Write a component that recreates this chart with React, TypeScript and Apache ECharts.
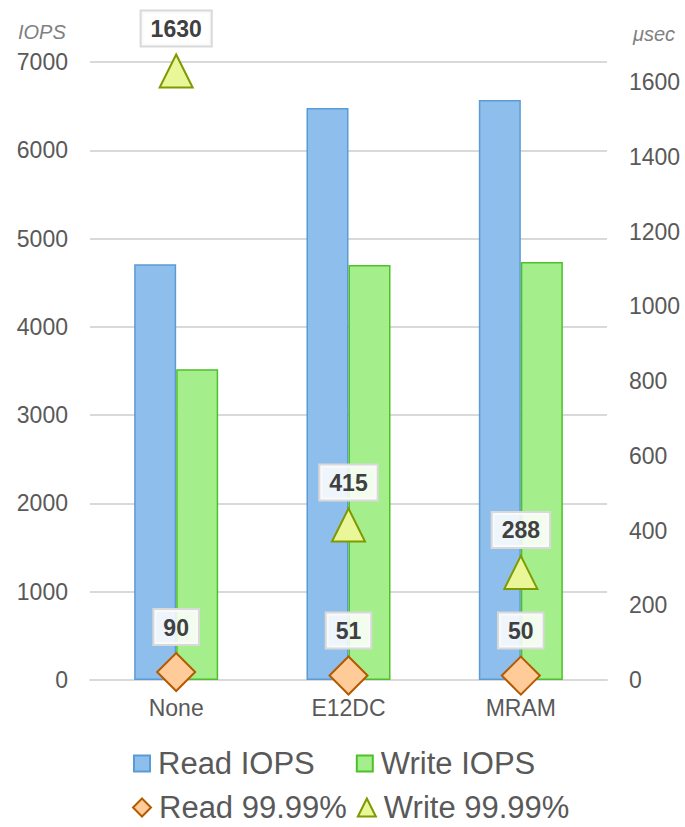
import React, { useEffect, useRef } from "react";
import * as echarts from "echarts";

const categories = ["None", "E12DC", "MRAM"];
const readIops = [4710, 6480, 6570];
const writeIops = [3520, 4700, 4735];
const read9999 = [90, 51, 50];
const write9999 = [1630, 415, 288];
const leftTicks = { min: 0, max: 7000, interval: 1000 };
const rightTicks = { min: 0, max: 1654, interval: 200 };

const axisColor = "#595959";
const gridColor = "#d9d9d9";
const font = "Liberation Sans, Arial, sans-serif";

const labelStyle = {
  show: true,
  position: "top" as const,
  distance: 8,
  fontFamily: font,
  fontWeight: "bold" as const,
  fontSize: 23,
  color: "#404040",
  backgroundColor: "rgba(255,255,255,0.85)",
  borderColor: "#d9d9d9",
  borderWidth: 2,
  padding: [6, 9, 5, 9],
};

export default function App() {
  const ref = useRef<HTMLDivElement>(null);
  useEffect(() => {
    const chart = echarts.init(ref.current!, undefined, { renderer: "svg" });
    chart.setOption({
      animation: false,
      textStyle: { fontFamily: font },
      grid: { left: 90, right: 78, top: 62, bottom: 147, containLabel: false },
      graphic: [
        { type: "text", left: 18, top: 22, style: { text: "IOPS", fontSize: 20, fontStyle: "italic", fill: "#808080", fontFamily: font } },
        { type: "text", left: 633, top: 24, style: { text: "μsec", fontSize: 20, fontStyle: "italic", fill: "#808080", fontFamily: font } },
      ],
      legend: [
        {
          left: 128,
          top: 743,
          itemGap: 41,
          itemWidth: 16,
          itemHeight: 16,
          textStyle: { fontSize: 31, lineHeight: 26, color: axisColor, fontFamily: font, padding: [0, 0, 0, 3] },
          data: [
            { name: "Read IOPS", icon: "rect" },
            { name: "Write IOPS", icon: "rect" },
          ],
        },
        {
          left: 127,
          top: 787,
          itemGap: 10,
          itemWidth: 18,
          itemHeight: 18,
          textStyle: { fontSize: 31, lineHeight: 26, color: axisColor, fontFamily: font, padding: [0, 0, 0, 3] },
          data: [
            { name: "Read 99.99%", icon: "diamond" },
            { name: "Write 99.99%", icon: "triangle" },
          ],
        },
      ],
      xAxis: {
        type: "category",
        data: categories,
        axisLine: { lineStyle: { color: gridColor, width: 2 } },
        axisTick: { show: false },
        axisLabel: { fontSize: 23, color: axisColor, margin: 16 },
      },
      yAxis: [
        {
          type: "value",
          ...leftTicks,
          axisLine: { show: false },
          axisTick: { show: false },
          axisLabel: { fontSize: 23, color: axisColor, margin: 22, formatter: (v: number) => String(v) },
          splitLine: { lineStyle: { color: gridColor, width: 2 } },
        },
        {
          type: "value",
          ...rightTicks,
          position: "right",
          axisLine: { show: false },
          axisTick: { show: false },
          axisLabel: { fontSize: 23, color: axisColor, margin: 22, showMaxLabel: false, formatter: (v: number) => String(v) },
          splitLine: { show: false },
        },
      ],
      series: [
        {
          name: "Read IOPS",
          type: "bar",
          data: readIops,
          barWidth: 42,
          barGap: "0%",
          itemStyle: { color: "#8EBEEC", borderColor: "#5B9BD5", borderWidth: 1.5 },
        },
        {
          name: "Write IOPS",
          type: "bar",
          data: writeIops,
          barWidth: 42,
          barGap: "0%",
          itemStyle: { color: "#A5EE8C", borderColor: "#4EC02A", borderWidth: 1.5 },
        },
        {
          name: "Read 99.99%",
          type: "scatter",
          yAxisIndex: 0,
          data: read9999,
          symbol: "diamond",
          symbolSize: 38,
          itemStyle: { color: "#FFCC99", borderColor: "#B35A00", borderWidth: 2, opacity: 1 },
          label: labelStyle,
          z: 5,
        },
        {
          name: "Write 99.99%",
          type: "scatter",
          yAxisIndex: 1,
          data: write9999,
          symbol: "triangle",
          symbolSize: 33,
          itemStyle: { color: "#EAF799", borderColor: "#7F9A00", borderWidth: 2, opacity: 1 },
          label: labelStyle,
          z: 5,
        },
      ],
    });
    return () => chart.dispose();
  }, []);
  return <div ref={ref} style={{ position: "absolute", left: 0, top: 0, width: 685, height: 827 }} />;
}
